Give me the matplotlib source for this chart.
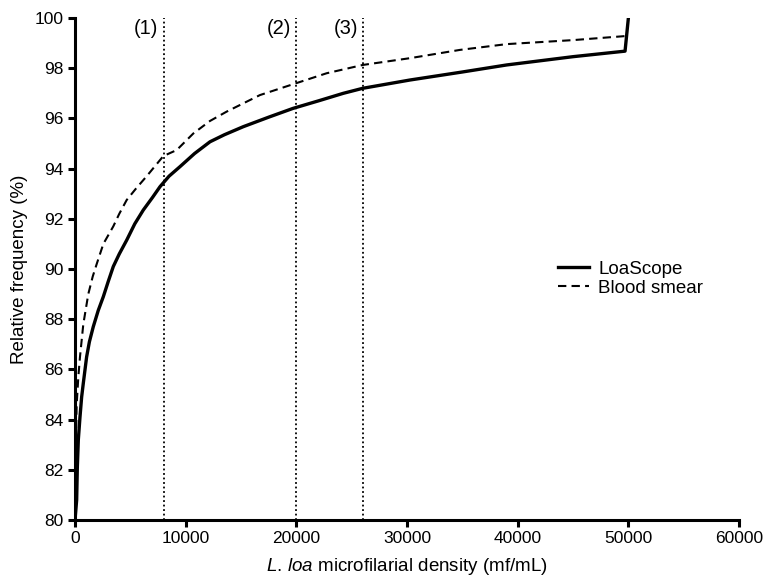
import matplotlib
matplotlib.use("Agg")
import matplotlib.pyplot as plt

plt.rcParams['font.family'] = ['Liberation Sans', 'DejaVu Sans']
plt.rcParams['mathtext.fontset'] = 'custom'
plt.rcParams['mathtext.rm'] = 'Liberation Sans'
plt.rcParams['mathtext.it'] = 'Liberation Sans:italic'

# LoaScope (solid)
loa_x = [0, 150, 210, 300, 450, 600, 750, 1050, 1300, 1650, 2100, 2560, 3000, 3460, 4000,
         4670, 5400, 6170, 7000, 7680, 8500, 9490, 10800, 12200, 13500, 15200, 17500,
         19700, 22000, 24240, 26000, 30260, 35000, 39000, 45000, 49700, 50000]
loa_y = [80.0, 80.8, 82.1, 83.2, 84.1, 84.9, 85.45, 86.5, 87.1, 87.7, 88.35, 88.9, 89.5,
         90.1, 90.6, 91.15, 91.8, 92.35, 92.85, 93.28, 93.7, 94.08, 94.6, 95.07, 95.35,
         95.67, 96.05, 96.4, 96.7, 97.0, 97.2, 97.53, 97.85, 98.13, 98.46, 98.68, 100.0]

# Blood smear (dashed)
smear_x = [0, 150, 300, 450, 750, 1200, 1600, 1960, 2560, 3460, 4000, 4670, 5500, 6480,
           7980, 9190, 10690, 12200, 13700, 16710, 19960, 22740, 26000, 30260, 34780,
           39000, 45000, 49700]
smear_y = [81.5, 84.6, 85.7, 86.5, 87.8, 89.0, 89.7, 90.2, 91.0, 91.7, 92.2, 92.75, 93.2,
           93.7, 94.5, 94.74, 95.4, 95.9, 96.27, 96.93, 97.4, 97.8, 98.13, 98.4, 98.73,
           98.96, 99.12, 99.28]

thresholds = [8000, 20000, 26000]
threshold_labels = ['(1)', '(2)', '(3)']

x_ticks = [0, 10000, 20000, 30000, 40000, 50000, 60000]
y_ticks = [80, 82, 84, 86, 88, 90, 92, 94, 96, 98, 100]

fig = plt.figure(figsize=(7.63, 5.87), dpi=100)
ax = fig.add_axes([0.0983, 0.1141, 0.8703, 0.8552])

for t, lab in zip(thresholds, threshold_labels):
    ax.axvline(t, color='black', linestyle=(0, (1, 1.5)), linewidth=1.3, zorder=1)
    ax.text(t - 450, 99.6, lab, ha='right', va='center', fontsize=14.5)

ax.plot(loa_x, loa_y, color='black', linewidth=2.4, label='LoaScope', zorder=3,
        solid_joinstyle='round')
ax.plot(smear_x, smear_y, color='black', linewidth=1.5, linestyle=(0, (4, 2.5)),
        label='Blood smear', zorder=2)

ax.set_xlim(0, 60000)
ax.set_ylim(80, 100)
ax.set_xticks(x_ticks)
ax.set_yticks(y_ticks)
ax.set_xticklabels([str(v) for v in x_ticks])
ax.set_yticklabels([str(v) for v in y_ticks])

for s in ['top', 'right']:
    ax.spines[s].set_visible(False)
for s in ['left', 'bottom']:
    ax.spines[s].set_linewidth(2.2)
ax.tick_params(axis='both', direction='out', length=5, width=2.2, labelsize=12.5, pad=3)

ax.set_xlabel(r'$\mathit{L.}\,\mathit{loa}$ microfilarial density (mf/mL)', fontsize=13.5, labelpad=7)
ax.set_ylabel('Relative frequency (%)', fontsize=13.5, labelpad=5)

leg = ax.legend(loc='upper left', bbox_to_anchor=(0.702, 0.55), frameon=False,
                fontsize=13.5, handlelength=1.65, handletextpad=0.5, labelspacing=0.1)

fig.savefig('out.png', dpi=100)
